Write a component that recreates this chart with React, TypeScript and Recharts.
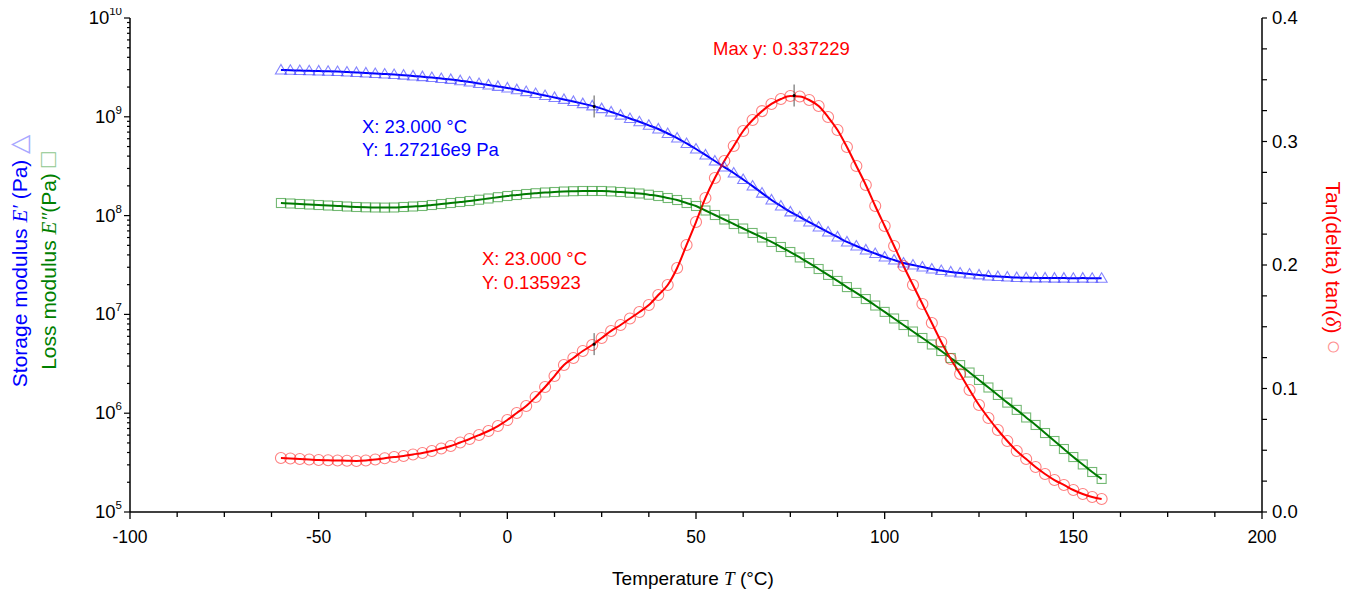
import React from 'react';
import { ComposedChart, Line, XAxis, YAxis, ReferenceDot } from 'recharts';

// temperature sweep in °C, rows of 10 °C
const temperature = [
  -60, -57.5, -55, -52.5,
  -50, -47.5, -45, -42.5,
  -40, -37.5, -35, -32.5,
  -30, -27.5, -25, -22.5,
  -20, -17.5, -15, -12.5,
  -10, -7.5, -5, -2.5,
  0, 2.5, 5, 7.5,
  10, 12.5, 15, 17.5,
  20, 22.5, 25, 27.5,
  30, 32.5, 35, 37.5,
  40, 42.5, 45, 47.5,
  50, 52.5, 55, 57.5,
  60, 62.5, 65, 67.5,
  70, 72.5, 75, 77.5,
  80, 82.5, 85, 87.5,
  90, 92.5, 95, 97.5,
  100, 102.5, 105, 107.5,
  110, 112.5, 115, 117.5,
  120, 122.5, 125, 127.5,
  130, 132.5, 135, 137.5,
  140, 142.5, 145, 147.5,
  150, 152.5, 155, 157.5,
];

// storage modulus E' (Pa)
const storageModulus = [
  2.98e9, 2.96e9, 2.94e9, 2.92e9,
  2.91e9, 2.89e9, 2.87e9, 2.84e9,
  2.81e9, 2.78e9, 2.74e9, 2.71e9,
  2.68e9, 2.64e9, 2.59e9, 2.55e9,
  2.5e9, 2.44e9, 2.39e9, 2.32e9,
  2.25e9, 2.17e9, 2.1e9, 2.03e9,
  1.96e9, 1.88e9, 1.8e9, 1.72e9,
  1.64e9, 1.57e9, 1.5e9, 1.43e9,
  1.36e9, 1.29e9, 1.21e9, 1.12e9,
  1.04e9, 9.6e8, 8.9e8, 8.2e8,
  7.53e8, 6.78e8, 6.1e8, 5.37e8,
  4.72e8, 4.11e8, 3.57e8, 3.1e8,
  2.7e8, 2.32e8, 1.99e8, 1.69e8,
  1.44e8, 1.25e8, 1.09e8, 9.68e7,
  8.61e7, 7.66e7, 6.82e7, 6.08e7,
  5.41e7, 4.92e7, 4.49e7, 4.13e7,
  3.81e7, 3.55e7, 3.31e7, 3.16e7,
  3.02e7, 2.88e7, 2.78e7, 2.69e7,
  2.62e7, 2.56e7, 2.51e7, 2.45e7,
  2.42e7, 2.39e7, 2.36e7, 2.35e7,
  2.34e7, 2.34e7, 2.33e7, 2.33e7,
  2.32e7, 2.33e7, 2.32e7, 2.32e7,
];

// loss modulus E'' (Pa)
const lossModulus = [
  1.341e8, 1.326e8, 1.31e8, 1.295e8,
  1.28e8, 1.265e8, 1.251e8, 1.236e8,
  1.222e8, 1.213e8, 1.208e8, 1.205e8,
  1.208e8, 1.222e8, 1.236e8, 1.251e8,
  1.28e8, 1.31e8, 1.341e8, 1.373e8,
  1.405e8, 1.448e8, 1.49e8, 1.536e8,
  1.579e8, 1.616e8, 1.654e8, 1.685e8,
  1.713e8, 1.733e8, 1.753e8, 1.766e8,
  1.774e8, 1.774e8, 1.774e8, 1.758e8,
  1.733e8, 1.705e8, 1.674e8, 1.627e8,
  1.579e8, 1.507e8, 1.438e8, 1.341e8,
  1.251e8, 1.126e8, 1.014e8, 9.13e7,
  8.22e7, 7.4e7, 6.67e7, 6.0e7,
  5.41e7, 4.81e7, 4.28e7, 3.77e7,
  3.31e7, 2.88e7, 2.51e7, 2.18e7,
  1.89e7, 1.65e7, 1.43e7, 1.23e7,
  1.06e7, 9.09e6, 7.81e6, 6.71e6,
  5.77e6, 4.96e6, 4.26e6, 3.62e6,
  3.07e6, 2.58e6, 2.17e6, 1.82e6,
  1.53e6, 1.28e6, 1.08e6, 9.05e5,
  7.6e5, 6.3e5, 5.23e5, 4.34e5,
  3.6e5, 3.03e5, 2.54e5, 2.16e5,
];

// tan(delta)
const tanDelta = [
  0.0437, 0.0433, 0.0429, 0.0425,
  0.0421, 0.0419, 0.0417, 0.0415,
  0.0413, 0.0417, 0.0425, 0.0435,
  0.0445, 0.0453, 0.0466, 0.0478,
  0.0494, 0.0514, 0.0534, 0.0563,
  0.0591, 0.0623, 0.0656, 0.0696,
  0.0745, 0.0802, 0.0858, 0.0931,
  0.1012, 0.1101, 0.119, 0.1247,
  0.1304, 0.1352, 0.1409, 0.1466,
  0.1514, 0.1567, 0.1619, 0.1676,
  0.1757, 0.1838, 0.1976, 0.2162,
  0.2348, 0.2543, 0.2704, 0.2842,
  0.2964, 0.3085, 0.3174, 0.3246,
  0.3304, 0.3344, 0.3368, 0.3364,
  0.3336, 0.3287, 0.3198, 0.3093,
  0.2955, 0.2802, 0.2648, 0.2478,
  0.2316, 0.2154, 0.1992, 0.1838,
  0.1684, 0.153, 0.1377, 0.1239,
  0.1117, 0.0988, 0.0866, 0.0761,
  0.0664, 0.0575, 0.0494, 0.0429,
  0.0364, 0.0308, 0.0259, 0.0219,
  0.0178, 0.0146, 0.0121, 0.0105,
];

// axes
const xTicks = [
  -100, -87.5, -75, -62.5, -50, -37.5, -25, -12.5, 0, 12.5, 25, 37.5, 50,
  62.5, 75, 87.5, 100, 112.5, 125, 137.5, 150, 162.5, 175, 187.5, 200,
];
const xLabels = [-100, -50, 0, 50, 100, 150, 200];
const decades = [1e5, 1e6, 1e7, 1e8, 1e9, 1e10];
const minorSteps = [2, 3, 4, 5, 6, 7, 8, 9];
const leftTicks = decades
  .concat(decades.slice(0, 5).flatMap((d) => minorSteps.map((m) => d * m)))
  .sort((a, b) => a - b);
const rightTicks = [
  0, 0.025, 0.05, 0.075, 0.1, 0.125, 0.15, 0.175, 0.2, 0.225, 0.25, 0.275,
  0.3, 0.325, 0.35, 0.375, 0.4,
];
const rightLabels = [0, 0.1, 0.2, 0.3, 0.4];

// cursor readouts
const cursorT = 23;
const cursorStorage = 1.27216e9;
const cursorTan = 0.135923;
const maxT = 76;
const maxTan = 0.337229;

const data = temperature.map((t, i) => ({
  t,
  storage: storageModulus[i],
  loss: lossModulus[i],
  tan: tanDelta[i],
}));

const FONT = '"Liberation Sans", Arial, sans-serif';
const SERIF = '"Liberation Serif", "Times New Roman", serif';
const BLUE = '#0000ff';
const GREEN = '#008000';
const RED = '#ff0000';

const BottomTick = ({ x, y, payload }: any) => {
  const v = payload.value;
  const major = xLabels.includes(v);
  return (
    <g>
      <line x1={x} x2={x} y1={y} y2={y + (major ? 7 : 5)} stroke="#000" strokeWidth={1.3} />
      {major && (
        <text x={x} y={y + 31} textAnchor="middle" fontSize={17.5} fontFamily={FONT} fill="#000">
          {v}
        </text>
      )}
    </g>
  );
};

const LeftTick = ({ x, y, payload }: any) => {
  const v = payload.value;
  const major = decades.includes(v);
  const exp = Math.round(Math.log10(v));
  return (
    <g>
      <line x1={x} x2={x - (major ? 6 : 3)} y1={y} y2={y} stroke="#000" strokeWidth={1.2} />
      {major && (
        <text x={x - 8} y={y + 6} textAnchor="end" fontSize={18.5} fontFamily={FONT} fill="#000">
          10
          <tspan dy={-9} fontSize={11.5}>
            {exp}
          </tspan>
        </text>
      )}
    </g>
  );
};

const RightTick = ({ x, y, payload }: any) => {
  const v = payload.value;
  const major = rightLabels.includes(v);
  return (
    <g>
      <line x1={x} x2={x + 5} y1={y} y2={y} stroke="#000" strokeWidth={1.2} />
      {major && (
        <text x={x + 10} y={y + 6} textAnchor="start" fontSize={18.5} fontFamily={FONT} fill="#000">
          {v.toFixed(1)}
        </text>
      )}
    </g>
  );
};

const triangleDot = (p: any) => {
  const { cx, cy, index } = p;
  if (cx == null || cy == null) return <g key={`tr-${index}`} />;
  return (
    <polygon
      key={`tr-${index}`}
      points={`${cx},${cy - 5.5} ${cx - 5.5},${cy + 4} ${cx + 5.5},${cy + 4}`}
      fill="none"
      stroke="#3030ff"
      strokeOpacity={0.6}
      strokeWidth={1.1}
    />
  );
};

const squareDot = (p: any) => {
  const { cx, cy, index } = p;
  if (cx == null || cy == null) return <g key={`sq-${index}`} />;
  return (
    <rect
      key={`sq-${index}`}
      x={cx - 4.5}
      y={cy - 4.5}
      width={9}
      height={9}
      fill="none"
      stroke={GREEN}
      strokeOpacity={0.55}
      strokeWidth={1.1}
    />
  );
};

const circleDot = (p: any) => {
  const { cx, cy, index } = p;
  if (cx == null || cy == null) return <g key={`ci-${index}`} />;
  return (
    <circle
      key={`ci-${index}`}
      cx={cx}
      cy={cy}
      r={5.5}
      fill="none"
      stroke={RED}
      strokeOpacity={0.5}
      strokeWidth={1.1}
    />
  );
};

const cursorMark = (p: any) => (
  <g>
    <line x1={p.cx} x2={p.cx} y1={p.cy - 11} y2={p.cy + 11} stroke="#555" strokeWidth={1} />
    <circle cx={p.cx} cy={p.cy} r={1.5} fill="#000" />
  </g>
);

export default function App() {
  return (
    <div style={{ position: 'relative', width: 1350, height: 590, marginLeft: -8, marginTop: -8, background: '#fff' }}>
      <ComposedChart width={1350} height={590} data={data} margin={{ top: 18, right: 28, bottom: 38, left: 70 }}>
        <XAxis
          dataKey="t"
          type="number"
          domain={[-100, 200]}
          ticks={xTicks}
          interval={0}
          allowDataOverflow
          height={40}
          tickSize={0}
          tickMargin={0}
          tickLine={false}
          tick={(p: any) => <BottomTick {...p} />}
          axisLine={{ stroke: '#000', strokeWidth: 1.5 }}
        />
        <YAxis
          yAxisId="left"
          type="number"
          scale="log"
          domain={[1e5, 1e10]}
          ticks={leftTicks}
          interval={0}
          allowDataOverflow
          width={60}
          tickSize={0}
          tickMargin={0}
          tickLine={false}
          tick={(p: any) => <LeftTick {...p} />}
          axisLine={{ stroke: '#000', strokeWidth: 1.5 }}
        />
        <YAxis
          yAxisId="right"
          orientation="right"
          type="number"
          domain={[0, 0.4]}
          ticks={rightTicks}
          interval={0}
          allowDataOverflow
          width={60}
          tickSize={0}
          tickMargin={0}
          tickLine={false}
          tick={(p: any) => <RightTick {...p} />}
          axisLine={{ stroke: '#000', strokeWidth: 1.5 }}
        />

        <Line yAxisId="left" dataKey="storage" stroke="none" dot={triangleDot} activeDot={false} isAnimationActive={false} />
        <Line yAxisId="left" type="monotone" dataKey="storage" stroke={BLUE} strokeWidth={2} dot={false} activeDot={false} isAnimationActive={false} />

        <Line yAxisId="left" dataKey="loss" stroke="none" dot={squareDot} activeDot={false} isAnimationActive={false} />
        <Line yAxisId="left" type="monotone" dataKey="loss" stroke="#007a00" strokeWidth={2} dot={false} activeDot={false} isAnimationActive={false} />

        <Line yAxisId="right" dataKey="tan" stroke="none" dot={circleDot} activeDot={false} isAnimationActive={false} />
        <Line yAxisId="right" type="monotone" dataKey="tan" stroke={RED} strokeWidth={2} dot={false} activeDot={false} isAnimationActive={false} />

        <ReferenceDot yAxisId="left" x={cursorT} y={cursorStorage} shape={cursorMark} />
        <ReferenceDot yAxisId="right" x={cursorT} y={cursorTan} shape={cursorMark} />
        <ReferenceDot yAxisId="right" x={maxT} y={maxTan} shape={cursorMark} />
      </ComposedChart>

      <svg width={1350} height={590} style={{ position: 'absolute', left: 0, top: 0, pointerEvents: 'none' }}>
        {/* axis titles */}
        <text transform="translate(27,261) rotate(-90)" textAnchor="middle" fontSize={21} fontFamily={FONT} fill={BLUE}>
          Storage modulus{' '}
          <tspan fontFamily={SERIF} fontStyle="italic">E′</tspan>
          {'  (Pa) '}
          <tspan fill="#a8a8ff" fontSize={25}>△</tspan>
        </text>
        <text transform="translate(56,261) rotate(-90)" textAnchor="middle" fontSize={21} fontFamily={FONT} fill={GREEN}>
          Loss modulus{' '}
          <tspan fontFamily={SERIF} fontStyle="italic">E″</tspan>
          {'(Pa) '}
          <tspan fill="#90c890" fontSize={25}>□</tspan>
        </text>
        <text transform="translate(1326,268) rotate(90)" textAnchor="middle" fontSize={21} fontFamily={FONT} fill={RED}>
          Tan(delta) tan(
          <tspan fontFamily={SERIF} fontStyle="italic">δ</tspan>
          {')  '}
          <tspan fill="#ff9090" fontSize={25}>○</tspan>
        </text>
        <text x={693} y={585} textAnchor="middle" fontSize={19} fontFamily={FONT} fill="#000">
          Temperature{' '}
          <tspan fontFamily={SERIF} fontStyle="italic">T</tspan>
          {' (°C)'}
        </text>

        {/* data tips */}
        <text x={362} y={133} fontSize={18.5} fontFamily={FONT} fill={BLUE}>X: 23.000 °C</text>
        <text x={362} y={156} fontSize={18.5} fontFamily={FONT} fill={BLUE}>Y: 1.27216e9 Pa</text>
        <text x={482} y={265} fontSize={18.5} fontFamily={FONT} fill={RED}>X: 23.000 °C</text>
        <text x={482} y={289} fontSize={18.5} fontFamily={FONT} fill={RED}>Y: 0.135923</text>
        <text x={713} y={55} fontSize={18.5} fontFamily={FONT} fill={RED}>Max y: 0.337229</text>
      </svg>
    </div>
  );
}
